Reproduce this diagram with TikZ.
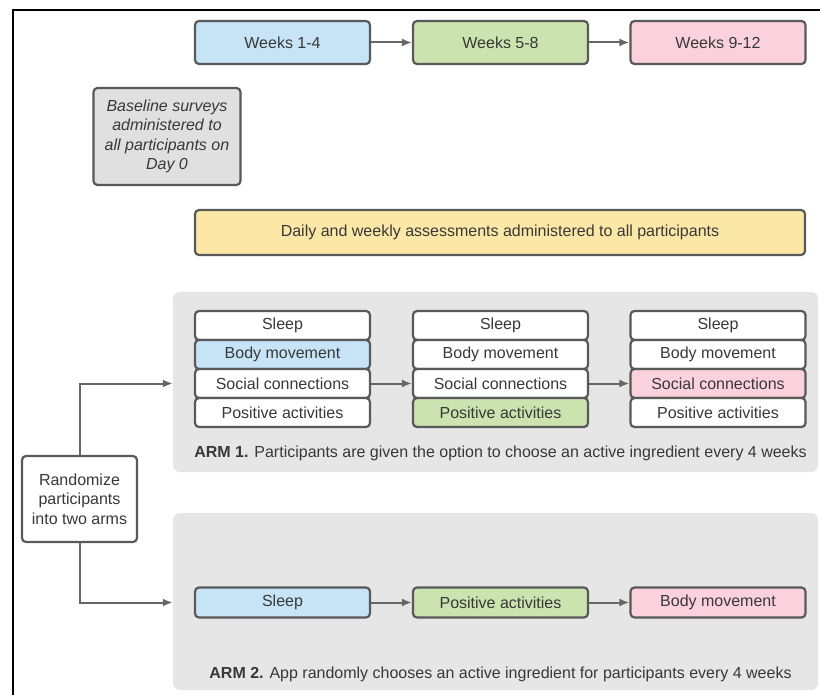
\documentclass[tikz,border=0pt]{standalone}
\usepackage{fontspec}
\setmainfont{Liberation Sans}
\usetikzlibrary{arrows.meta}
\definecolor{edge}{HTML}{595959}
\definecolor{ink}{HTML}{383838}
\definecolor{wire}{HTML}{666666}
\definecolor{bluefill}{HTML}{C7E4F7}
\definecolor{greenfill}{HTML}{CBE3AE}
\definecolor{pinkfill}{HTML}{FBD1DE}
\definecolor{yellowfill}{HTML}{FCE8A6}
\definecolor{greyfill}{HTML}{E0E0E0}
\definecolor{panelfill}{HTML}{E6E6E6}
\tikzset{
  box/.style={draw=edge, line width=2.2pt, rounded corners=4pt, fill=white,
    text=ink, inner sep=0pt, anchor=center, align=center,
    font=\fontsize{16}{19.5}\selectfont},
  weekbox/.style={box, minimum width=175pt, minimum height=43pt},
  rowbox/.style={box, minimum width=175pt, minimum height=29pt},
  armbox/.style={box, minimum width=175pt, minimum height=30pt},
  panel/.style={fill=panelfill, rounded corners=7pt, inner sep=0pt, anchor=center},
  armlabel/.style={text=ink, inner sep=0pt, anchor=center,
    font=\fontsize{16}{19}\selectfont},
  arrow/.style={draw=wire, line width=2pt, -{Latex[length=10pt,width=8pt]}},
}
\begin{document}
\begin{tikzpicture}[x=1pt, y=-1pt]
\useasboundingbox (0,0) rectangle (820,695);
\fill[white] (0,0) rectangle (820,695);
% frame along the left and top
\draw[black, line width=2pt] (12.5,695) -- (12.5,10.5) -- (820,10.5);

% timeline
\node[weekbox, fill=bluefill]  (w1) at (282.5,42.5) {Weeks 1-4};
\node[weekbox, fill=greenfill] (w2) at (500.5,42.5) {Weeks 5-8};
\node[weekbox, fill=pinkfill]  (w3) at (718,42.5)   {Weeks 9-12};
\draw[arrow] (w1) -- (w2);
\draw[arrow] (w2) -- (w3);

% baseline and ongoing assessments
\node[box, fill=greyfill, minimum width=147pt, minimum height=97pt,
  font=\fontsize{16}{19.5}\selectfont\itshape] (base) at (167,136.5)
  {Baseline surveys\\administered to\\all participants on\\Day 0};
\node[box, fill=yellowfill, minimum width=610pt, minimum height=45pt]
  (daily) at (500,232.5) {Daily and weekly assessments administered to all participants};

% arm panels
\node[panel, minimum width=645pt, minimum height=180pt] (arm1) at (495.5,382) {};
\node[panel, minimum width=645pt, minimum height=177pt] (arm2) at (495.5,601.5) {};

% arm 1: choice of ingredient per block
\node[rowbox] (a1s) at (282.5,325.5) {Sleep};
\node[rowbox, fill=bluefill] (a1b) at (282.5,354.5) {Body movement};
\node[rowbox] (a1c) at (282.5,383.5) {Social connections};
\node[rowbox] (a1p) at (282.5,412.5) {Positive activities};

\node[rowbox] (b1s) at (500.5,325.5) {Sleep};
\node[rowbox] (b1b) at (500.5,354.5) {Body movement};
\node[rowbox] (b1c) at (500.5,383.5) {Social connections};
\node[rowbox, fill=greenfill] (b1p) at (500.5,412.5) {Positive activities};

\node[rowbox] (c1s) at (718,325.5) {Sleep};
\node[rowbox] (c1b) at (718,354.5) {Body movement};
\node[rowbox, fill=pinkfill] (c1c) at (718,383.5) {Social connections};
\node[rowbox] (c1p) at (718,412.5) {Positive activities};

\draw[arrow] (a1c) -- (b1c);
\draw[arrow] (b1c) -- (c1c);

\node[armlabel] (lab1) at (500.5,453)
  {\textbf{ARM 1.} Participants are given the option to choose an active ingredient every 4 weeks};

% arm 2: random ingredient per block
\node[armbox, fill=bluefill]  (a2) at (282.5,602.5) {Sleep};
\node[armbox, fill=greenfill] (b2) at (500.5,602.5) {Positive activities};
\node[armbox, fill=pinkfill]  (c2) at (718,602.5)   {Body movement};
\draw[arrow] (a2) -- (b2);
\draw[arrow] (b2) -- (c2);

\node[armlabel] (lab2) at (500.5,674)
  {\textbf{ARM 2.} App randomly chooses an active ingredient for participants every 4 weeks};

% randomisation
\node[box, minimum width=115pt, minimum height=86pt] (rand) at (79.5,499)
  {Randomize\\participants\\into two arms};
\draw[arrow] (rand.north) |- (arm1.west |- a1c);
\draw[arrow] (rand.south) |- (arm2.west |- a2);
\end{tikzpicture}
\end{document}
